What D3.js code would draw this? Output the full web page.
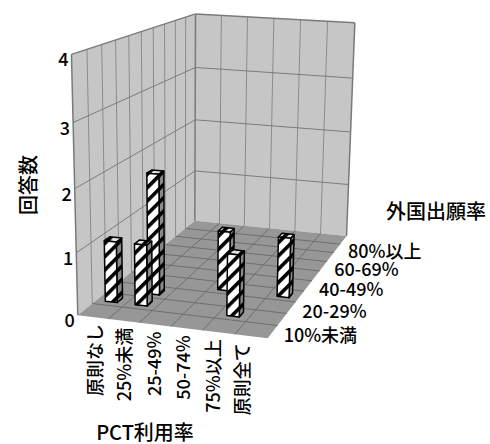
<!DOCTYPE html>
<html>
<head>
<meta charset="utf-8">
<script src="https://cdn.jsdelivr.net/npm/d3@7"></script>
<style>
  body { margin: 0; background: #fff; }
  svg { display: block; }
  text { font-family: "Noto Sans CJK JP", "Noto Sans", sans-serif; fill: #000; font-weight: 500; }
</style>
</head>
<body>
<svg id="chart" width="490" height="444"></svg>
<script>
// PCT利用率 (categories along the front) by 外国出願率 (series along the depth)
const categories = ["原則なし", "25%未満", "25-49%", "50-74%", "75%以上", "原則全て"];
const seriesNames = ["10%未満", "10-19%", "20-29%", "30-39%", "40-49%",
                     "50-59%", "60-69%", "70-79%", "80%以上", "無回答"];
const valueTicks = [0, 1, 2, 3, 4];

// 回答数 per series, one entry per category
const counts10  = [0, 0, 0, 0, 0, 0];
const counts10s = [1, 1, 0, 0, 1, 0];
const counts20s = [0, 2, 0, 0, 0, 0];
const counts30s = [0, 0, 0, 1, 0, 1];
const counts40s = [0, 0, 0, 0, 0, 0];
const counts50s = [0, 0, 0, 0, 0, 0];
const counts60s = [0, 0, 0, 0, 0, 0];
const counts70s = [0, 0, 0, 0, 0, 0];
const counts80  = [0, 0, 0, 0, 0, 0];
const countsNA  = [0, 0, 0, 0, 0, 0];
const seriesCounts = [counts10, counts10s, counts20s, counts30s, counts40s,
                      counts50s, counts60s, counts70s, counts80, countsNA];

const svg = d3.select("#chart");

// ---- perspective camera -------------------------------------------------
// Unit-cube corners of the plot box and where they sit on screen;
// a 3x4 projection matrix is least-squares fitted to them.
const frame = [
  [0, 0, 0, 77, 313], [1, 0, 0, 270, 337], [0, 0, 1, 195, 222], [1, 0, 1, 347, 237],
  [0, 1, 0, 69, 57], [0, 1, 1, 194, 14], [1, 1, 1, 354, 22],
  [0, .25, 0, 75, 252], [0, .5, 0, 73, 190], [0, .75, 0, 71, 125],
  [0, 1, .5, 152, 28.3], [.5, 1, 1, 271, 17.9],
  [0, .5, 1, 195, 120], [1, .5, 1, 350, 132.5], [0, .25, 1, 195, 170], [1, .25, 1, 349, 185]
];

function fitCamera(pts) {
  const n = 11;
  const M = Array.from({length: n}, () => new Array(n + 1).fill(0));
  const add = (row, rhs) => {
    for (let i = 0; i < n; i++) {
      for (let j = 0; j < n; j++) M[i][j] += row[i] * row[j];
      M[i][n] += row[i] * rhs;
    }
  };
  pts.forEach(([X, Y, Z, u, v]) => {
    add([X, Y, Z, 1, 0, 0, 0, 0, -u * X, -u * Y, -u * Z], u);
    add([0, 0, 0, 0, X, Y, Z, 1, -v * X, -v * Y, -v * Z], v);
  });
  for (let c = 0; c < n; c++) {
    let p = c;
    for (let r = c + 1; r < n; r++) if (Math.abs(M[r][c]) > Math.abs(M[p][c])) p = r;
    [M[c], M[p]] = [M[p], M[c]];
    for (let r = 0; r < n; r++) {
      if (r === c) continue;
      const f = M[r][c] / M[c][c];
      for (let k = c; k <= n; k++) M[r][k] -= f * M[c][k];
    }
  }
  const s = M.map((r, i) => r[n] / r[i]);
  return [[s[0], s[1], s[2], s[3]], [s[4], s[5], s[6], s[7]], [s[8], s[9], s[10], 1]];
}
const P = fitCamera(frame);
function project(X, Y, Z) {
  const w = P[2][0] * X + P[2][1] * Y + P[2][2] * Z + P[2][3];
  return [
    (P[0][0] * X + P[0][1] * Y + P[0][2] * Z + P[0][3]) / w,
    (P[1][0] * X + P[1][1] * Y + P[1][2] * Z + P[1][3]) / w
  ];
}

// ---- scales into the unit box --------------------------------------------
const x = d3.scaleBand().domain(categories).range([0, 1]).paddingInner(0.6).paddingOuter(0.3);
const z = d3.scaleBand().domain(seriesNames).range([0, 1]).paddingInner(0.6).paddingOuter(0.3);
const y = d3.scaleLinear().domain([0, 4]).range([0, 1]);

const line = d3.line();
const poly = pts => line(pts.map(p => project(...p))) + "Z";
const seg = (a, b) => line([project(...a), project(...b)]);

// ---- fills ----------------------------------------------------------------
const defs = svg.append("defs");
function stripes(id, bg) {
  const pat = defs.append("pattern").attr("id", id)
    .attr("patternUnits", "userSpaceOnUse")
    .attr("width", 9.4).attr("height", 9.4)
    .attr("patternTransform", "rotate(45)");
  pat.append("rect").attr("width", 9.4).attr("height", 9.4).attr("fill", bg);
  pat.append("rect").attr("width", 3.6).attr("height", 9.4).attr("fill", "#000");
}
stripes("stripeFront", "#ffffff");
stripes("stripeSide", "#8a8a8a");
stripes("stripeTop", "#e6e6e6");

// ---- walls and floor -------------------------------------------------------
const box = svg.append("g");
box.append("path").attr("d", poly([[0, 0, 0], [0, 0, 1], [0, 1, 1], [0, 1, 0]]))
  .attr("fill", "#c6c6c6");
box.append("path").attr("d", poly([[0, 0, 1], [1, 0, 1], [1, 1, 1], [0, 1, 1]]))
  .attr("fill", "#c6c6c6");
box.append("path").attr("d", poly([[0, 0, 0], [1, 0, 0], [1, 0, 1], [0, 0, 1]]))
  .attr("fill", "#979797");

const grid = svg.append("g").attr("fill", "none").attr("stroke-width", 1);
const catEdges = d3.range(1, categories.length).map(i => i * x.step());
const serEdges = d3.range(1, seriesNames.length).map(j => j * z.step());
const innerTicks = valueTicks.slice(1, -1);

// wall gridlines
serEdges.forEach(e => grid.append("path").attr("d", seg([0, 0, e], [0, 1, e])).attr("stroke", "#8c8c8c"));
catEdges.forEach(e => grid.append("path").attr("d", seg([e, 0, 1], [e, 1, 1])).attr("stroke", "#8c8c8c"));
innerTicks.forEach(t => {
  grid.append("path").attr("d", seg([0, y(t), 0], [0, y(t), 1])).attr("stroke", "#7c7c7c");
  grid.append("path").attr("d", seg([0, y(t), 1], [1, y(t), 1])).attr("stroke", "#7c7c7c");
});
// floor gridlines
serEdges.forEach(e => grid.append("path").attr("d", seg([0, 0, e], [1, 0, e])).attr("stroke", "#6e6e6e"));
catEdges.forEach(e => grid.append("path").attr("d", seg([e, 0, 0], [e, 0, 1])).attr("stroke", "#6e6e6e"));

// wall borders
const edges = svg.append("g").attr("fill", "none").attr("stroke", "#7a7a7a").attr("stroke-width", 1.5);
edges.append("path").attr("d", seg([0, 0, 0], [0, 1, 0]));
edges.append("path").attr("d", seg([0, 1, 0], [0, 1, 1]));
edges.append("path").attr("d", seg([0, 1, 1], [1, 1, 1]));
edges.append("path").attr("d", seg([1, 1, 1], [1, 0, 1]));
edges.append("path").attr("d", seg([0, 0, 1], [0, 1, 1]));

// ---- columns, drawn back to front -----------------------------------------
const bars = [];
seriesNames.forEach((s, j) => categories.forEach((c, i) => {
  const v = seriesCounts[j][i];
  if (v > 0) bars.push({s, c, v});
}));
bars.sort((a, b) => d3.descending(z(a.s), z(b.s)) || d3.ascending(x(a.c), x(b.c)));

const barG = svg.append("g").attr("stroke", "#000").attr("stroke-width", 1.5)
  .attr("stroke-linejoin", "round");
bars.forEach(d => {
  const x0 = x(d.c), x1 = x0 + x.bandwidth();
  const z0 = z(d.s), z1 = z0 + z.bandwidth();
  const h = y(d.v);
  const g = barG.append("g");
  g.append("path").attr("d", poly([[x1, 0, z0], [x1, 0, z1], [x1, h, z1], [x1, h, z0]]))
    .attr("fill", "url(#stripeSide)");
  g.append("path").attr("d", poly([[x0, h, z0], [x1, h, z0], [x1, h, z1], [x0, h, z1]]))
    .attr("fill", "url(#stripeTop)");
  g.append("path").attr("d", poly([[x0, 0, z0], [x1, 0, z0], [x1, h, z0], [x0, h, z0]]))
    .attr("fill", "url(#stripeFront)");
});

// ---- labels ----------------------------------------------------------------
const labels = svg.append("g").style("font-size", "18px");

// value axis
valueTicks.forEach(t => {
  const [px, py] = project(0, y(t), 0);
  labels.append("text").attr("x", px - 3).attr("y", py + 4)
    .attr("text-anchor", "end").attr("dominant-baseline", "central").text(t);
});

// category axis (vertical text below the front edge)
const catLabelX = d3.scalePoint().domain(categories).range([94, 241]);
categories.forEach(c => {
  const [, py] = project(x(c) + x.bandwidth() / 2, 0, 0);
  const lx = catLabelX(c), ly = py + 7;
  labels.append("text").attr("transform", `translate(${lx},${ly}) rotate(-90)`)
    .attr("text-anchor", "end").attr("dominant-baseline", "central").text(c);
});

// series axis (every other name along the right floor edge)
seriesNames.forEach((s, j) => {
  if (j % 2) return;
  const [px, py] = project(1, 0, z(s) + z.bandwidth() / 2);
  labels.append("text").attr("x", px + 11).attr("y", py + 2)
    .attr("dominant-baseline", "central").text(s);
});

// axis titles
const titles = svg.append("g").style("font-size", "20px");
titles.append("text").attr("transform", "translate(27,185) rotate(-90)")
  .attr("text-anchor", "middle").attr("dominant-baseline", "central").text("回答数");
titles.append("text").attr("x", 436).attr("y", 210)
  .attr("text-anchor", "middle").attr("dominant-baseline", "central").text("外国出願率");
titles.append("text").attr("x", 145).attr("y", 431)
  .attr("text-anchor", "middle").attr("dominant-baseline", "central").text("PCT利用率");
</script>
</body>
</html>
